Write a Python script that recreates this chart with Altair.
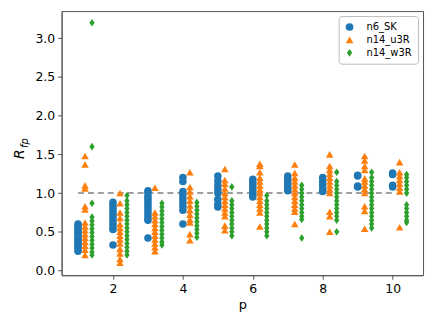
import altair as alt
import pandas as pd

p_values = [1, 2, 3, 4, 5, 6, 7, 8, 9, 10]
series_names = ["n6_SK", "n14_u3R", "n14_w3R"]
series_colors = ["#1f77b4", "#ff7f0e", "#2ca02c"]

n6_SK = [
    [0.25, 0.28, 0.30, 0.33, 0.35, 0.38, 0.40, 0.42, 0.45, 0.48, 0.50, 0.52, 0.55, 0.58, 0.60],
    [0.88, 0.84, 0.80, 0.76, 0.72, 0.68, 0.64, 0.60, 0.56, 0.53, 0.33],
    [1.03, 1.00, 0.96, 0.92, 0.88, 0.84, 0.80, 0.76, 0.72, 0.68, 0.65, 0.42],
    [1.20, 1.15, 1.02, 0.98, 0.93, 0.88, 0.83, 0.78, 0.60],
    [1.22, 1.16, 1.10, 1.05, 1.00, 0.92, 0.86, 0.82],
    [1.18, 1.14, 1.10, 1.06, 1.02, 0.98, 0.95],
    [1.22, 1.18, 1.14, 1.10, 1.06, 1.03],
    [1.20, 1.15, 1.10, 1.05, 1.02],
    [1.23, 1.22, 1.09, 1.08],
    [1.26, 1.24, 1.10, 1.08],
]
n14_u3R = [
    [1.48, 1.37, 1.10, 1.06, 0.83, 0.79, 0.62, 0.57, 0.52, 0.47, 0.42, 0.37, 0.32, 0.27, 0.20],
    [1.00, 0.87, 0.75, 0.68, 0.60, 0.55, 0.50, 0.45, 0.40, 0.35, 0.28, 0.22, 0.15, 0.10],
    [1.07, 0.75, 0.70, 0.65, 0.60, 0.55, 0.50, 0.45, 0.40, 0.35, 0.30, 0.25],
    [1.27, 1.08, 1.02, 0.96, 0.90, 0.84, 0.78, 0.72, 0.66, 0.62, 0.47, 0.39],
    [1.31, 1.17, 1.12, 1.06, 1.00, 0.95, 0.90, 0.85, 0.80, 0.75, 0.70, 0.58, 0.52],
    [1.38, 1.35, 1.27, 1.20, 1.15, 1.10, 1.05, 1.00, 0.95, 0.90, 0.85, 0.80, 0.75, 0.57],
    [1.37, 1.26, 1.20, 1.15, 1.10, 1.05, 1.00, 0.95, 0.90, 0.85, 0.80, 0.76, 0.60],
    [1.50, 1.35, 1.30, 1.25, 1.20, 1.15, 1.10, 1.05, 1.00, 0.76, 0.70, 0.50],
    [1.48, 1.42, 1.35, 1.30, 1.19, 1.15, 1.10, 1.05, 1.00, 0.83, 0.77, 0.54],
    [1.40, 1.27, 1.22, 1.17, 1.12, 1.07, 1.02, 0.56],
]
n14_w3R = [
    [3.20, 1.60, 0.87, 0.69, 0.64, 0.59, 0.54, 0.49, 0.44, 0.39, 0.34, 0.29, 0.24, 0.20],
    [0.97, 0.90, 0.85, 0.80, 0.75, 0.70, 0.65, 0.60, 0.55, 0.50, 0.45, 0.40, 0.35, 0.30, 0.25, 0.20],
    [0.87, 0.82, 0.77, 0.72, 0.67, 0.62, 0.57, 0.52, 0.47, 0.42, 0.37, 0.33],
    [0.88, 0.83, 0.78, 0.73, 0.68, 0.63, 0.58, 0.53, 0.48, 0.43],
    [1.08, 0.90, 0.85, 0.80, 0.75, 0.70, 0.65, 0.60, 0.55, 0.50, 0.45],
    [0.97, 0.90, 0.85, 0.80, 0.75, 0.70, 0.65, 0.60, 0.55, 0.50, 0.45],
    [1.10, 1.05, 1.00, 0.95, 0.90, 0.85, 0.80, 0.75, 0.70, 0.66, 0.42],
    [1.27, 1.15, 1.10, 1.05, 1.00, 0.95, 0.90, 0.85, 0.80, 0.75, 0.70, 0.65, 0.50],
    [1.27, 1.20, 1.15, 1.10, 1.05, 1.00, 0.95, 0.90, 0.85, 0.80, 0.75, 0.70, 0.65, 0.60, 0.55],
    [1.24, 1.20, 1.15, 1.10, 1.05, 1.00, 0.85, 0.80, 0.75, 0.70, 0.65, 0.62],
]
series_shift = [0.0, 0.2, 0.4]

x_ticks = [2, 4, 6, 8, 10]
y_ticks = [0.0, 0.5, 1.0, 1.5, 2.0, 2.5, 3.0]

rows = []
for name, shift, groups in zip(series_names, series_shift, [n6_SK, n14_u3R, n14_w3R]):
    for p, vals in zip(p_values, groups):
        for v in vals:
            rows.append({"series": name, "p": p, "x": p + shift, "R": v})
df = pd.DataFrame(rows)

thin_diamond = "M0,-1L0.7,0L0,1L-0.7,0Z"

xscale = alt.Scale(domain=[0.53, 10.87], nice=False, zero=False)
yscale = alt.Scale(domain=[-0.06, 3.35], nice=False, zero=False)

legend = alt.Legend(
    title=None, orient="top-right", offset=5, padding=6, rowPadding=3,
    strokeColor="#bbbbbb", cornerRadius=3, fillColor="white",
    labelFontSize=10, labelFont="DejaVu Sans", symbolSize=60, labelOffset=12,
    symbolStrokeWidth=0,
)

points = alt.Chart(df).mark_point(filled=True, opacity=1, strokeWidth=0).encode(
    x=alt.X("x:Q", scale=xscale,
            axis=alt.Axis(values=x_ticks, format="d", title="p", grid=False)),
    y=alt.Y("R:Q", scale=yscale,
            axis=alt.Axis(values=y_ticks, format=".1f", title=None, grid=False)),
    color=alt.Color("series:N", scale=alt.Scale(domain=series_names, range=series_colors), legend=legend),
    shape=alt.Shape("series:N", scale=alt.Scale(domain=series_names,
                    range=["circle", "triangle-up", thin_diamond]), legend=legend),
    size=alt.value(58),
)

ref_df = pd.DataFrame({"x": [1], "x2": [10], "y": [1.0]})
rule = alt.Chart(ref_df).mark_rule(color="#808080", strokeDash=[6, 4], strokeWidth=1.5).encode(
    x=alt.X("x:Q", scale=xscale), x2="x2:Q", y=alt.Y("y:Q", scale=yscale)
)

lbl_R = alt.Chart(pd.DataFrame({"t": ["R"]})).mark_text(
    angle=270, font="DejaVu Sans", fontSize=14, fontStyle="italic", align="center", baseline="middle"
).encode(x=alt.value(-42), y=alt.value(144), text="t:N")
lbl_fp = alt.Chart(pd.DataFrame({"t": ["fp"]})).mark_text(
    angle=270, font="DejaVu Sans", fontSize=10, fontStyle="italic", align="center", baseline="middle"
).encode(x=alt.value(-37), y=alt.value(133), text="t:N")

chart = alt.layer(rule, points, lbl_R, lbl_fp).properties(
    width=364, height=266, padding={"top": 2, "left": 5, "right": 5, "bottom": 5}
).configure_view(stroke="#555555", strokeWidth=1).configure_axis(
    labelFont="DejaVu Sans", titleFont="DejaVu Sans", labelFontSize=12.5, titleFontSize=13,
    labelColor="black", titleColor="black", domainColor="#555555", tickColor="#555555",
    tickSize=4, labelPadding=3, titleFontWeight="normal"
)

chart.save("out.html", embed_options={"renderer": "svg", "actions": False})
